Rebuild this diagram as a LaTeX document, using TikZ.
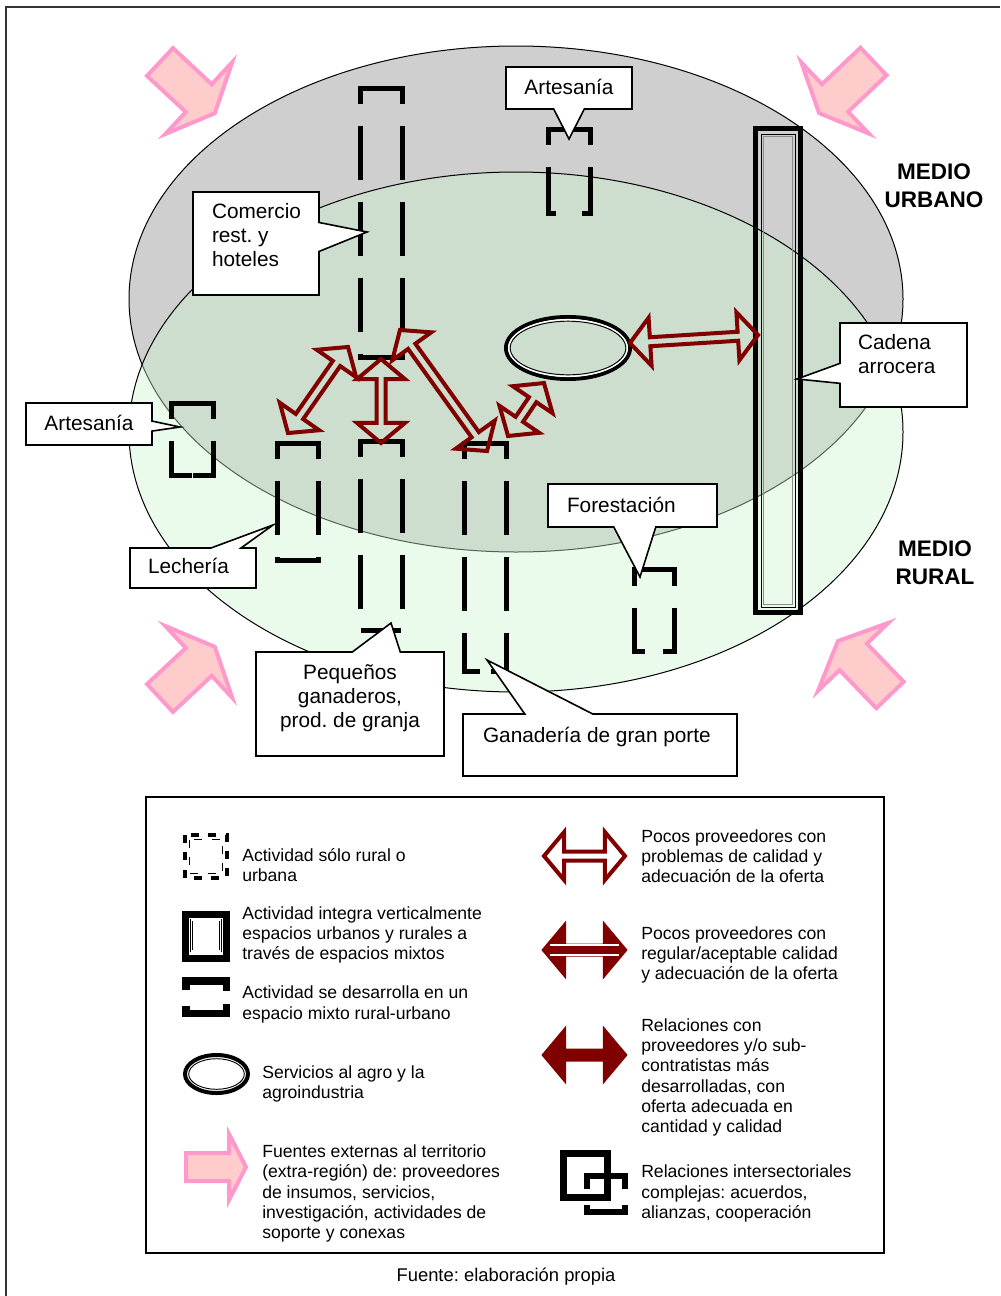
\documentclass[tikz,border=0pt]{standalone}
\usepackage{fontspec}
\setmainfont{Liberation Sans}
\usetikzlibrary{shapes.arrows,shapes.callouts}
\frenchspacing

\definecolor{urbgray}{RGB}{207,207,207}
\definecolor{rurgreen}{RGB}{205,245,205}
\definecolor{relred}{RGB}{128,0,0}
\definecolor{extline}{RGB}{255,153,204}
\definecolor{extfill}{RGB}{255,204,204}

\newcommand{\labfont}{\fontsize{15.6pt}{18pt}\selectfont}
\newcommand{\legfont}{\fontsize{13.2pt}{15.2pt}\selectfont}

% text of a callout: width, raise of first baseline, lines
\newcommand{\calltext}[3]{\makebox[#1][l]{\raisebox{#2}[0pt][0pt]{\begin{tabular}[t]{@{}l@{}}#3\end{tabular}}}}
\newcommand{\calltextc}[2]{\raisebox{#1}[0pt][0pt]{\begin{tabular}[t]{@{}c@{}}#2\end{tabular}}}

% activity box, two dashed halves from the top middle
\newcommand{\actbox}[4]{%
  \draw[actline] ({(#1+#3)/2},#2) -- (#1,#2) -- (#1,#4) -- ({(#1+#3)/2},#4);
  \draw[actline] ({(#1+#3)/2},#2) -- (#3,#2) -- (#3,#4) -- ({(#1+#3)/2},#4);}

% outside source arrow: tail middle, angle
\newcommand{\extarrow}[3]{%
  \draw[extarrow, shift={(#1,#2)}, rotate=#3]
    (0,-19) -- (53,-19) -- (53,-49) -- (75,0) -- (53,49) -- (53,19) -- (0,19) -- cycle;}

\tikzset{
  actline/.style={line width=3.75pt, dash pattern=on 40.5pt off 16.5pt, dash phase=13pt},
  callbox/.style={rectangle callout, draw, fill=white, line width=1.2pt, inner sep=0pt, font=\labfont},
  relarrow/.style={double arrow, draw=relred, line width=3pt, inner sep=0pt,
    minimum width=36pt, double arrow head extend=6.5pt, double arrow tip angle=100},
  extarrow/.style={draw=extline, fill=extfill, line width=3pt},
  legtext/.style={anchor=west, align=left, inner sep=0pt, font=\legfont},
  medio/.style={align=center, font=\fontsize{16.9pt}{21pt}\selectfont\bfseries},
}

\begin{document}
\begin{tikzpicture}[x=0.75pt,y=-0.75pt]
  \useasboundingbox (0,0) rectangle (1000,1296);
  \draw[line width=1.5pt, black!80] (6,1296) -- (6,7) -- (1000,7);

  % medio urbano / medio rural
  \filldraw[fill=urbgray, line width=0.75pt] (516,299) ellipse [x radius=387, y radius=253];
  \filldraw[fill=rurgreen, fill opacity=0.4, line width=0.75pt] (516,432) ellipse [x radius=387, y radius=260];

  % actividades
  \actbox{360}{88}{402}{357}
  \actbox{360}{441}{402}{630}
  \actbox{277}{443}{318}{560}
  \actbox{464.5}{443}{506.5}{671}
  \actbox{171.5}{403.5}{213.5}{475}
  \actbox{548.5}{129}{590}{213}
  \actbox{634}{569}{674}{651}

  % cadena arrocera
  \draw[line width=3.75pt] (755.5,128.5) rectangle (800.5,612.5);
  \draw[line width=0.6pt] (761,134) rectangle (795,607);
  \draw[line width=0.6pt, black!45] (763.5,136.5) rectangle (792.5,604.5);

  % servicios
  \draw[line width=3pt] (568,348) ellipse [x radius=62, y radius=31];
  \draw[white, line width=1.1pt] (568,348) ellipse [x radius=59.3, y radius=28.3];
  \draw[line width=0.7pt] (568,348) ellipse [x radius=57.8, y radius=26.8];

  % relaciones
  \coordinate (lech-n) at (288,433);
  \coordinate (com-sw) at (348,347);
  \coordinate (com-s) at (381,359);
  \coordinate (peq-n) at (381,443);
  \coordinate (com-e) at (400,330);
  \coordinate (gan-n) at (487,451);
  \coordinate (gan-ne) at (508,436);
  \coordinate (srv-sw) at (544,383);
  \coordinate (srv-e) at (630,343);
  \coordinate (cad-w) at (758,335);
  \path (lech-n) -- node[relarrow, sloped, minimum height=78.7pt] (r-lech) {} (com-sw);
  \path (com-s) -- node[relarrow, sloped, minimum height=63pt] (r-peq) {} (peq-n);
  \path (com-e) -- node[relarrow, sloped, minimum height=111.8pt] (r-gan) {} (gan-n);
  \path (gan-ne) -- node[relarrow, sloped, minimum height=48pt] (r-srv) {} (srv-sw);
  \path (srv-e) -- node[relarrow, sloped, minimum height=96.2pt] (r-cad) {} (cad-w);

  % llamadas
  \coordinate (tip-com) at (367,232);
  \coordinate (tip-art1) at (569,139);
  \coordinate (tip-art2) at (180,427);
  \coordinate (tip-lech) at (273,525);
  \coordinate (tip-peq) at (391,623);
  \coordinate (tip-gan) at (487,660);
  \coordinate (tip-for) at (640,577);
  \coordinate (tip-cad) at (797,379);
  \node[callbox, minimum width=94.5pt, minimum height=77.25pt, callout pointer width=21.75pt,
    callout absolute pointer={(tip-com)}] (com) at (256,243.5)
    {\calltext{66pt}{18.4pt}{Comercio\\rest. y\\hoteles}};
  \node[callbox, minimum width=94.5pt, minimum height=31.5pt, callout pointer width=23pt,
    callout absolute pointer={(tip-art1)}] (art1) at (569,88)
    {\calltextc{-4.5pt}{Artesanía}};
  \node[callbox, minimum width=94.5pt, minimum height=31.5pt, callout pointer width=7.5pt,
    callout absolute pointer={(tip-art2)}] (art2) at (89,424)
    {\calltextc{-4.5pt}{Artesanía}};
  \node[callbox, minimum width=94.5pt, minimum height=30pt, callout pointer width=22.5pt,
    callout absolute pointer={(tip-lech)}] (lech) at (193,568)
    {\calltext{67.5pt}{-3.75pt}{Lechería}};
  \node[callbox, minimum width=141pt, minimum height=78pt, callout pointer width=36pt,
    callout absolute pointer={(tip-peq)}] (peq) at (350,704)
    {\calltextc{18.75pt}{Pequeños\\ganaderos,\\prod. de granja}};
  \node[callbox, minimum width=205.5pt, minimum height=46.5pt, callout pointer width=51pt,
    callout absolute pointer={(tip-gan)}] (gan) at (600,745)
    {\calltext{175.5pt}{2.25pt}{Ganadería de gran porte}};
  \node[callbox, minimum width=126.75pt, minimum height=32.25pt, callout pointer width=31.5pt,
    callout absolute pointer={(tip-for)}] (for) at (632.5,505.5)
    {\calltext{98.25pt}{-4.9pt}{Forestación}};
  \node[callbox, minimum width=95.25pt, minimum height=63pt, callout pointer width=15pt,
    callout absolute pointer={(tip-cad)}] (cad) at (903.5,365)
    {\calltext{68.25pt}{12pt}{Cadena\\arrocera}};

  % fuentes externas
  \extarrow{160}{62}{-43}
  \extarrow{873.5}{61.5}{-136.5}
  \extarrow{160}{698}{43}
  \extarrow{890}{695}{134}

  \node[medio] (urb) at (934,186) {MEDIO\\URBANO};
  \node[medio] (rur) at (935,563) {MEDIO\\RURAL};

  % leyenda
  \draw[line width=1.1pt] (146,797) rectangle (884,1253);
  \draw[line width=2.6pt, dash pattern=on 6pt off 7pt] (185,835) rectangle (227,878);
  \draw[line width=0.6pt, dash pattern=on 6pt off 7pt] (189.5,839.5) rectangle (222.5,873.5);
  \node[legtext] (leg-only) at (242,865) {Actividad sólo rural o\\urbana};
  \draw[line width=5.25pt] (185.5,914.5) rectangle (226.5,958.5);
  \draw[double, line width=0.5pt, double distance=1pt] (191.5,920) rectangle (220.5,951);
  \node[legtext] (leg-vert) at (242,935) {Actividad integra verticalmente\\espacios urbanos y rurales a\\través de espacios mixtos};
  \draw[line width=5.5pt] (186,990) -- (186,981) -- (226.5,981) -- (226.5,991);
  \draw[line width=5.5pt] (186,1006) -- (186,1013.5) -- (226.5,1013.5) -- (226.5,1004);
  \node[legtext] (leg-mix) at (242,1004.5) {Actividad se desarrolla en un\\espacio mixto rural-urbano};
  \draw[line width=3pt] (216.5,1074) ellipse [x radius=31.5, y radius=19];
  \draw[line width=0.7pt] (216.5,1074) ellipse [x radius=27.8, y radius=15.3];
  \node[legtext] (leg-srv) at (262,1084) {Servicios al agro y la\\agroindustria};
  \draw[extarrow] (186,1153) -- (229,1153) -- (229,1134) -- (246,1167) -- (229,1200) -- (229,1181) -- (186,1181) -- cycle;
  \node[legtext] (leg-ext) at (262,1193.5) {Fuentes externas al territorio\\(extra-región) de: proveedores\\de insumos, servicios,\\investigación, actividades de\\soporte y conexas};

  \node[relarrow, fill=white, minimum height=60.75pt] (leg-weak) at (584.5,856) {};
  \node[legtext] (leg-weak-t) at (641,856) {Pocos proveedores con\\problemas de calidad y\\adecuación de la oferta};
  \node[relarrow, fill=relred, minimum height=60.75pt] (leg-fair) at (584.5,950) {};
  \draw[white, line width=1.8pt] (550,945) -- (619,945);
  \draw[white, line width=1.8pt] (550,955) -- (619,955);
  \node[legtext] (leg-fair-t) at (641,955) {Pocos proveedores con\\regular/aceptable calidad\\y adecuación de la oferta};
  \node[relarrow, fill=relred, minimum height=60.75pt] (leg-strong) at (584.5,1055) {};
  \node[legtext] (leg-strong-t) at (641,1077.5) {Relaciones con\\proveedores y/o sub-\\contratistas más\\desarrolladas, con\\oferta adecuada en\\cantidad y calidad};
  \draw[line width=5.25pt] (563.5,1153.5) rectangle (607.5,1197.5);
  \draw[double, line width=0.5pt, double distance=1pt] (569,1159) rectangle (602,1192);
  \draw[line width=4.5pt] (587,1189) -- (587,1176) -- (625,1176) -- (625,1189);
  \draw[line width=4.5pt] (587,1205) -- (587,1212) -- (625,1212) -- (625,1205);
  \node[legtext] (leg-inter) at (641,1193.5) {Relaciones intersectoriales\\complejas: acuerdos,\\alianzas, cooperación};

  \node[font=\fontsize{13.8pt}{16pt}\selectfont] (fuente) at (506,1277) {Fuente: elaboración propia};
\end{tikzpicture}
\end{document}
